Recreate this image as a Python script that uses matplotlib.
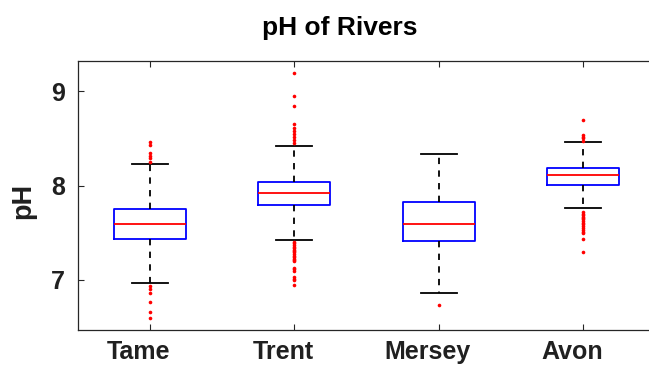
import matplotlib
matplotlib.use('Agg')
import matplotlib.pyplot as plt
from matplotlib.transforms import ScaledTranslation

plt.rcParams['font.family'] = ['Liberation Sans', 'DejaVu Sans']

#%% Data

rivers = ['Tame', 'Trent', 'Mersey', 'Avon']
q1 = [7.432, 7.796, 7.411, 8.005]
med = [7.594, 7.924, 7.588, 8.115]
q3 = [7.750, 8.040, 7.828, 8.189]
whislo = [6.962, 7.425, 6.859, 7.764]
whishi = [8.231, 8.416, 8.338, 8.459]

fliers_tame = [8.465, 8.43, 8.34, 8.31, 8.29, 8.25,
               6.933, 6.898, 6.856, 6.765, 6.66, 6.596]
fliers_trent = [9.197, 8.95, 8.847, 8.65, 8.61, 8.58, 8.55, 8.51, 8.48, 8.45,
                7.403, 7.385, 7.368, 7.35, 7.336, 7.32, 7.304, 7.29, 7.272, 7.255,
                7.24, 7.225, 7.209, 7.198, 7.124, 7.11, 7.092, 7.03, 7.01, 6.997, 6.944]
fliers_mersey = [6.728]
fliers_avon = [8.699, 8.54, 8.52, 8.50, 8.475,
               7.722, 7.70, 7.687, 7.67, 7.655, 7.64, 7.623, 7.60, 7.59, 7.57,
               7.548, 7.53, 7.505, 7.495, 7.429, 7.297]
fliers = [fliers_tame, fliers_trent, fliers_mersey, fliers_avon]

#%% Chart

stats = []
for i, name in enumerate(rivers):
    stats.append({'label': name, 'q1': q1[i], 'med': med[i], 'q3': q3[i],
                  'whislo': whislo[i], 'whishi': whishi[i], 'fliers': fliers[i]})

W, H = 649, 365
fig = plt.figure(figsize=(W / 100, H / 100), dpi=100)
# axes run past the right edge of the picture, as in the reference
ax = fig.add_axes([77.5 / W, 1 - 330 / H, 578 / W, (330 - 60.7) / H])

ax.bxp(stats, positions=range(1, 5), widths=0.5,
       boxprops=dict(color='#0000ff', linewidth=1.3),
       medianprops=dict(color='#ff0000', linewidth=1.3),
       whiskerprops=dict(color='black', linewidth=1.3, linestyle=(0, (3.5, 3.5))),
       capprops=dict(color='black', linewidth=1.3),
       flierprops=dict(marker='o', markersize=2.6, markerfacecolor='#ff0000',
                       markeredgecolor='none', linestyle='none'))

ax.set_xlim(0.5, 4.5)
ax.set_ylim(6.466, 9.325)
ax.set_yticks([7, 8, 9])
ax.set_xticks(range(1, 5))
ax.set_xticklabels(rivers)

for s in ax.spines.values():
    s.set_color('#262626')
    s.set_linewidth(0.9)

ax.tick_params(direction='in', length=4, width=0.8, color='#262626',
               top=True, right=True, labelsize=18)
ax.tick_params(axis='x', pad=7)
ax.tick_params(axis='y', pad=9)
for lbl in ax.get_xticklabels() + ax.get_yticklabels():
    lbl.set_fontweight('bold')
    lbl.set_color('#202020')
for lbl in ax.get_xticklabels():
    lbl.set_transform(lbl.get_transform() + ScaledTranslation(-0.11, 0, fig.dpi_scale_trans))

fig.text(340 / W, 1 - 35 / H, 'pH of Rivers', ha='center', va='baseline',
         fontsize=19, fontweight='bold', color='black')
fig.text(23 / W, 1 - 200.5 / H, 'pH', ha='center', va='center', rotation=90,
         fontsize=19.5, fontweight='bold', color='#202020')

plt.savefig('out.png', dpi=100)
